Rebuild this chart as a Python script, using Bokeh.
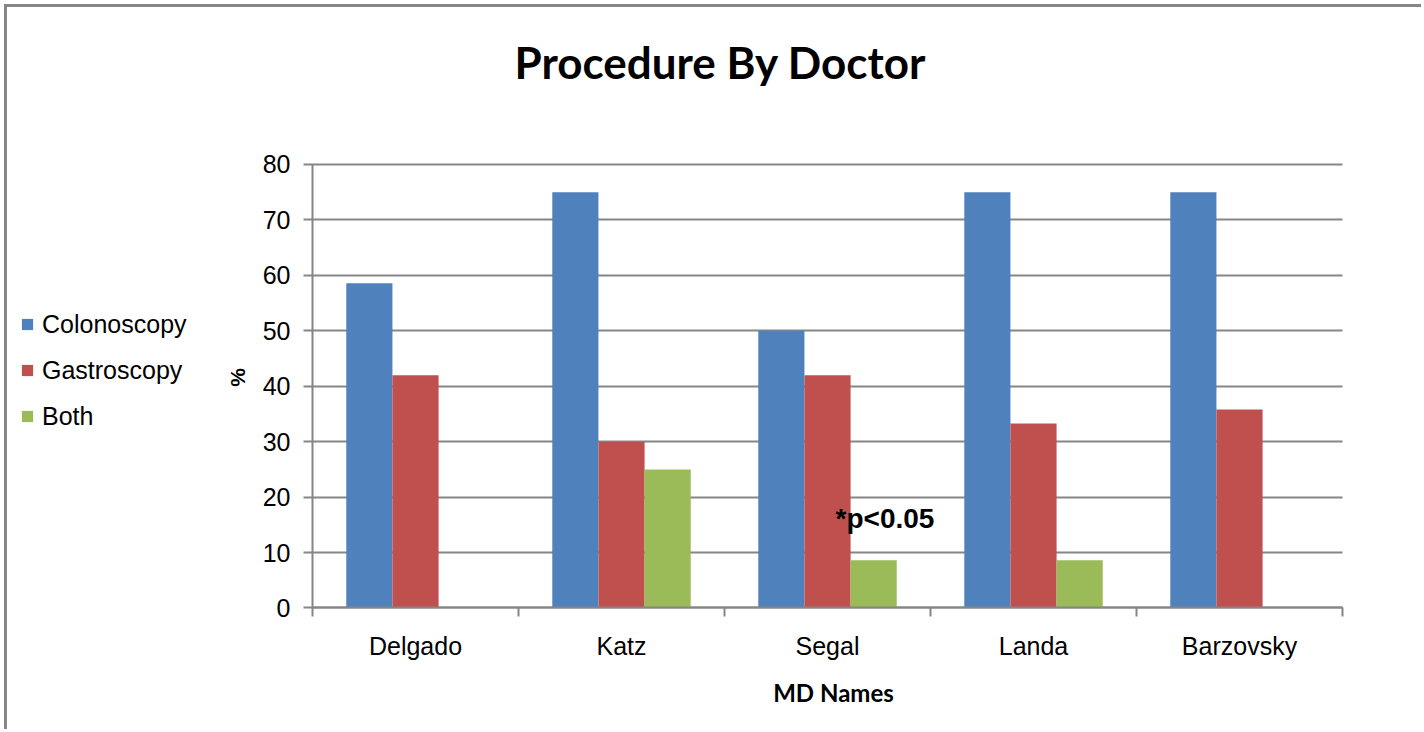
import numpy as np
from bokeh.plotting import figure
from bokeh.models import (Range1d, FixedTicker, Label, Legend, LegendItem,
                          ColumnDataSource)
from bokeh.embed import file_html
from bokeh.resources import INLINE

doctors = ["Delgado", "Katz", "Segal", "Landa", "Barzovsky"]
series = ["Colonoscopy", "Gastroscopy", "Both"]
colonoscopy = [58.6, 75.0, 50.0, 75.0, 75.0]
gastroscopy = [42.0, 30.0, 42.0, 33.3, 35.8]
both = [0.0, 25.0, 8.6, 8.6, 0.0]
colors = ["#4F81BD", "#C0504D", "#9BBB59"]
y_ticks = [0, 10, 20, 30, 40, 50, 60, 70, 80]
title_text = "Procedure By Doctor"
x_title = "MD Names"
y_title = "%"
note = "*p<0.05"

GRAY = "#868686"
TICK_FONT = "Liberation Sans"
TITLE_FONT = "Lato"

# The plot frame fills the whole canvas; the axes are drawn at fixed locations
# so the title, legend and axis titles can sit around them inside the frame.
W, H = 1417, 725
PX_PER_X = 206  # pixels per category
p = figure(width=W, height=H, output_backend="svg", toolbar_location=None,
           x_range=Range1d(-1.4806, 5.398), y_range=Range1d(-22.46, 108.32),
           min_border=0)
p.outline_line_color = None
p.background_fill_color = "white"
p.border_fill_color = "white"
p.styles = {"margin-left": "4px", "margin-top": "4px",
            "border-left": "3px solid #868686", "border-top": "3px solid #868686"}

centers = np.arange(len(doctors)) + 0.5
bw = 0.224
offsets = [-bw, 0.0, bw]
values = [colonoscopy, gastroscopy, both]
items = []
for name, vals, off, col in zip(series, values, offsets, colors):
    src = ColumnDataSource(dict(x=centers + off, top=vals))
    r = p.vbar(x="x", top="top", bottom=0, width=bw, source=src,
               fill_color=col, line_color=None)
    items.append(LegendItem(label=name, renderers=[r]))

# x axis
xa = p.xaxis[0]
xa.fixed_location = 0
xa.bounds = (0, len(doctors))
xa.ticker = FixedTicker(ticks=list(centers), minor_ticks=list(range(len(doctors) + 1)))
xa.major_label_overrides = {float(c): d for c, d in zip(centers, doctors)}
xa.major_tick_line_color = None
xa.minor_tick_line_color = GRAY
xa.minor_tick_line_width = 2
xa.minor_tick_out = 9
xa.minor_tick_in = 0
xa.axis_line_color = GRAY
xa.axis_line_width = 2
xa.major_label_text_font = TICK_FONT
xa.major_label_text_font_size = "25px"
xa.major_label_text_color = "black"
xa.major_label_standoff = 15

# y axis; its inward ticks span the category area and act as gridlines
ya = p.yaxis[0]
ya.level = "underlay"
ya.fixed_location = 0
ya.bounds = (0, 80)
ya.ticker = FixedTicker(ticks=y_ticks)
ya.major_tick_line_color = GRAY
ya.major_tick_line_width = 2
ya.major_tick_out = 9
ya.major_tick_in = len(doctors) * PX_PER_X
ya.minor_tick_line_color = None
ya.axis_line_color = GRAY
ya.axis_line_width = 2
ya.major_label_text_font = TICK_FONT
ya.major_label_text_font_size = "25px"
ya.major_label_text_color = "black"
ya.major_label_standoff = 13

p.xgrid.visible = False
p.ygrid.visible = False

# legend (inside the canvas-wide frame)
legend = Legend(items=items, location=(13, 293), orientation="vertical",
                label_text_font=TICK_FONT, label_text_font_size="25px",
                label_text_color="black", glyph_width=14, glyph_height=14,
                label_height=46, label_standoff=8, spacing=0,
                padding=0, margin=0, border_line_color=None,
                background_fill_alpha=0)
p.add_layout(legend)

p.add_layout(Label(x=1.9806, y=98.4, text=title_text, text_align="center",
                   text_baseline="middle", text_font=TITLE_FONT,
                   text_font_size="44px", text_font_style="bold", text_color="black"))
p.add_layout(Label(x=2.529, y=-15.24, text=x_title, text_align="center",
                   text_baseline="middle", text_font=TITLE_FONT,
                   text_font_size="24px", text_font_style="bold", text_color="black"))
p.add_layout(Label(x=-0.364, y=41.58, text=y_title, text_align="center",
                   text_baseline="middle", angle=np.pi / 2, text_font=TICK_FONT,
                   text_font_size="21px", text_font_style="bold", text_color="black"))
p.add_layout(Label(x=2.539, y=16.1, text=note, text_align="left",
                   text_baseline="middle", text_font=TICK_FONT,
                   text_font_size="28px", text_font_style="bold", text_color="black"))

open("out.html", "w").write(file_html(p, INLINE))
